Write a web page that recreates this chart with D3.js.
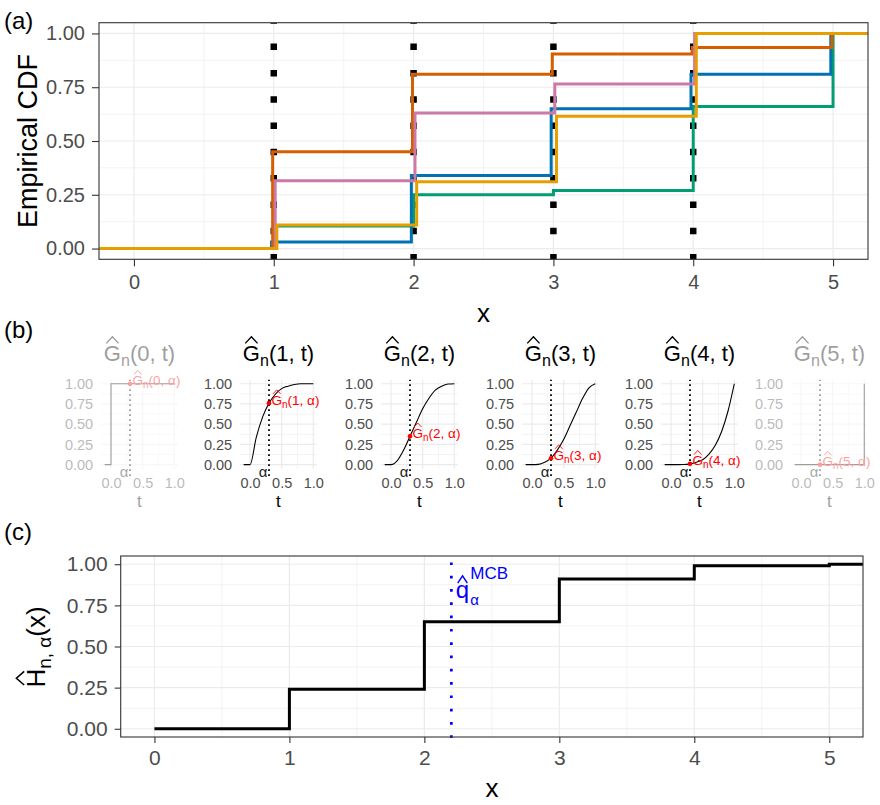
<!DOCTYPE html>
<html>
<head>
<meta charset="utf-8">
<script src="https://cdn.jsdelivr.net/npm/d3@7"></script>
<style>
  body { margin: 0; background: #fff; }
  text { font-family: "Liberation Sans", Arial, sans-serif; }
</style>
</head>
<body>
<script>
// ---- data ----
// (a) empirical CDFs, value after the jump at x = 1..5
const jumpX = [1, 2, 3, 4, 5];
const ecdfGreen  = [0.105, 0.25, 0.27, 0.66, 1.00];
const ecdfBlue   = [0.03, 0.34, 0.65, 0.81, 1.00];
const ecdfOrange = [0.45, 0.81, 0.905, 0.935, 1.00];
const ecdfPink   = [0.315, 0.63, 0.765, 1.00, 1.00];
const ecdfYellow = [0.11, 0.31, 0.615, 1.00, 1.00];
const seriesColors = ["#009E73", "#0072B2", "#D55E00", "#CC79A7", "#E69F00"];
const seriesShift  = [0, -0.016, -0.008, 0.01, 0.022];
const vlineX = [1, 2, 3, 4];

// (b) G_n(x, t) curves
const panelX = [0, 1, 2, 3, 4, 5];
const panelFaded = [true, false, false, false, false, true];
const tGrid = [-0.1, 0, 0.1, 0.2, 0.3, 0.4, 0.5, 0.6, 0.7, 0.8, 0.9, 1.0];
const G0 = [0, 1, 1, 1, 1, 1, 1, 1, 1, 1, 1, 1];
const G1 = [0, 0, 0.34, 0.59, 0.76, 0.87, 0.94, 0.97, 0.99, 1, 1, 1];
const G2 = [0, 0, 0.05, 0.18, 0.35, 0.52, 0.69, 0.82, 0.92, 0.97, 0.996, 1];
const G3 = [0, 0, 0.004, 0.03, 0.08, 0.18, 0.31, 0.48, 0.65, 0.82, 0.95, 1];
const G4 = [0, 0, 0, 0.002, 0.01, 0.03, 0.06, 0.13, 0.24, 0.41, 0.66, 1];
const G5 = [0, 0, 0, 0, 0, 0, 0, 0, 0, 0, 0, 1];
const alphaLevel = 0.3;
const gAtAlpha = [1, 0.76, 0.35, 0.08, 0.01, 0];

// (c) H_{n,alpha}(x)
const hX = [0, 1, 2, 3, 4, 5];
const hValues = [0, 0.24, 0.65, 0.91, 0.99, 1.00];
const qMCB = 2.2;

const yTicks = [0, 0.25, 0.5, 0.75, 1];
const xTicks = [0, 1, 2, 3, 4, 5];
const tTicks = [0, 0.5, 1];

const svg = d3.select("body").append("svg")
  .attr("width", 880)
  .attr("height", 805);

// text with hat / subscript parts
function mathText(parent, parts, opt) {
  const g = parent.append("g");
  let cx = 0;
  parts.forEach(p => {
    const t = g.append("text")
      .attr("x", cx)
      .attr("y", p.dy || 0)
      .attr("fill", opt.color)
      .style("font-size", p.size + "px")
      .text(p.text);
    const w = t.node().getComputedTextLength();
    if (p.hat) {
      const hb = -(p.hatBase || 0.8) * p.size, hh = 0.3 * p.size, hw = 0.36 * w;
      g.append("path")
        .attr("d", `M${cx + w / 2 - hw},${hb} L${cx + w / 2},${hb - hh} L${cx + w / 2 + hw},${hb}`)
        .attr("fill", "none")
        .attr("stroke", opt.color)
        .attr("stroke-width", Math.max(0.9, p.size * 0.06));
    }
    cx += w + (p.after || 0);
  });
  const dx = opt.anchor === "middle" ? -cx / 2 : (opt.anchor === "end" ? -cx : 0);
  g.attr("transform", `translate(${opt.x},${opt.y})` + (opt.rotate ? ` rotate(${opt.rotate})` : "") + ` translate(${dx},0)`);
  return g;
}

function styleAxis(g, size, color, tickColor) {
  g.select(".domain").remove();
  g.selectAll(".tick line").attr("stroke", tickColor || "#333333").attr("stroke-width", 1.1);
  g.selectAll(".tick text").attr("fill", color).style("font-size", size + "px")
    .style("font-family", '"Liberation Sans", Arial, sans-serif');
}

function gridLines(g, x, y, xMajor, xMinor, yMajor, yMinor) {
  const [x0, x1] = x.range(), [y0, y1] = y.range();
  g.selectAll(null).data(xMinor).join("line")
    .attr("x1", d => x(d)).attr("x2", d => x(d)).attr("y1", y0).attr("y2", y1)
    .attr("stroke", "#EBEBEB").attr("stroke-width", 0.6);
  g.selectAll(null).data(yMinor).join("line")
    .attr("y1", d => y(d)).attr("y2", d => y(d)).attr("x1", x0).attr("x2", x1)
    .attr("stroke", "#EBEBEB").attr("stroke-width", 0.6);
  g.selectAll(null).data(xMajor).join("line")
    .attr("x1", d => x(d)).attr("x2", d => x(d)).attr("y1", y0).attr("y2", y1)
    .attr("stroke", "#EBEBEB").attr("stroke-width", 1.2);
  g.selectAll(null).data(yMajor).join("line")
    .attr("y1", d => y(d)).attr("y2", d => y(d)).attr("x1", x0).attr("x2", x1)
    .attr("stroke", "#EBEBEB").attr("stroke-width", 1.2);
}

// ================= (a) =================
const xA = d3.scaleLinear().domain([-0.25, 5.25]).range([99, 868]);
const yA = d3.scaleLinear().domain([-0.05, 1.05]).range([259.3, 22.7]);
const pa = svg.append("g");

gridLines(pa, xA, yA, xTicks, [0.5, 1.5, 2.5, 3.5, 4.5], yTicks, [0.125, 0.375, 0.625, 0.875]);

svg.append("clipPath").attr("id", "clipA").append("rect")
  .attr("x", 99).attr("y", 22.7).attr("width", 769).attr("height", 236.6);

// black dotted verticals
pa.append("g").attr("clip-path", "url(#clipA)")
  .selectAll("line").data(vlineX).join("line")
  .attr("x1", d => xA(d)).attr("x2", d => xA(d))
  .attr("y1", 260.5).attr("y2", 22.7)
  .attr("stroke", "#000").attr("stroke-width", 6.5)
  .attr("stroke-dasharray", "6.5,19.8");

const ecdfs = [ecdfGreen, ecdfBlue, ecdfOrange, ecdfPink, ecdfYellow];
const stepLine = d3.line().x(d => xA(d[0])).y(d => yA(d[1])).curve(d3.curveStepAfter);
pa.append("g").attr("clip-path", "url(#clipA)")
  .selectAll("path").data(ecdfs).join("path")
  .attr("d", (vals, i) => {
    const pts = [[-0.25, 0]];
    jumpX.forEach((x, j) => pts.push([x + seriesShift[i], vals[j]]));
    pts.push([5.25, vals[vals.length - 1]]);
    return stepLine(pts);
  })
  .attr("fill", "none")
  .attr("stroke", (d, i) => seriesColors[i])
  .attr("stroke-width", 3);

pa.append("rect").attr("x", 99).attr("y", 22.7).attr("width", 769).attr("height", 236.6)
  .attr("fill", "none").attr("stroke", "#333333").attr("stroke-width", 1.1);

pa.append("g").attr("transform", "translate(0,259.3)")
  .call(d3.axisBottom(xA).tickValues(xTicks).tickFormat(d3.format("d")).tickSize(7).tickPadding(9))
  .call(g => styleAxis(g, 20, "#4D4D4D"));
pa.append("g").attr("transform", "translate(99,0)")
  .call(d3.axisLeft(yA).tickValues(yTicks).tickFormat(d3.format(".2f")).tickSize(7).tickPadding(7))
  .call(g => styleAxis(g, 20, "#4D4D4D"));

pa.append("text").attr("x", 483.5).attr("y", 322).attr("text-anchor", "middle")
  .style("font-size", "26px").text("x");
pa.append("text").attr("transform", "translate(37,141) rotate(-90)").attr("text-anchor", "middle")
  .style("font-size", "27px").text("Empirical CDF");
svg.append("text").attr("x", 4).attr("y", 29).style("font-size", "24px").text("(a)");

// ================= (b) =================
svg.append("text").attr("x", 4).attr("y", 338).style("font-size", "24px").text("(b)");
const panelT0 = [111, 250, 391, 532, 671, 801];
const unitW = 63.3;
const gCurves = [G0, G1, G2, G3, G4, G5];

panelX.forEach((px, i) => {
  const t0 = panelT0[i];
  const xs = d3.scaleLinear().domain([-0.155, 1.055]).range([t0 - 0.155 * unitW, t0 + 1.055 * unitW]);
  const ys = d3.scaleLinear().domain([-0.05, 1.05]).range([468.7, 379.7]);
  const g = svg.append("g").attr("opacity", panelFaded[i] ? 0.38 : 1);
  const mid = (xs.range()[0] + xs.range()[1]) / 2;

  gridLines(g, xs, ys, tTicks, [0.25, 0.75], yTicks, [0.125, 0.375, 0.625, 0.875]);

  g.append("g").attr("transform", `translate(0,${ys.range()[0]})`)
    .call(d3.axisBottom(xs).tickValues(tTicks).tickFormat(d3.format(".1f")).tickSize(0).tickPadding(9))
    .call(a => styleAxis(a, 14.5, "#4D4D4D"));
  g.append("g").attr("transform", `translate(${xs.range()[0]},0)`)
    .call(d3.axisLeft(ys).tickValues(yTicks).tickFormat(d3.format(".2f")).tickSize(0).tickPadding(8))
    .call(a => styleAxis(a, 14.5, "#4D4D4D"));

  const pts = tGrid.map((t, k) => [t, gCurves[i][k]]);
  const line = d3.line().x(d => xs(d[0])).y(d => ys(d[1]))
    .curve(panelFaded[i] ? d3.curveStepAfter : d3.curveMonotoneX);
  g.append("path").attr("d", line(pts)).attr("fill", "none")
    .attr("stroke", "#000").attr("stroke-width", 1.1);

  // dotted alpha line
  g.append("line")
    .attr("x1", xs(alphaLevel)).attr("x2", xs(alphaLevel))
    .attr("y1", ys(-0.14)).attr("y2", ys(1.05))
    .attr("stroke", "#000").attr("stroke-width", 1.8)
    .attr("stroke-dasharray", "1.8,3.2");
  g.append("text").attr("x", xs(alphaLevel) - 1.5).attr("y", 476.5)
    .attr("text-anchor", "end").style("font-size", "15px").attr("fill", "#1a1a1a").text("α");

  g.append("circle").attr("cx", xs(alphaLevel)).attr("cy", ys(gAtAlpha[i])).attr("r", 2.3).attr("fill", "#FF0000");
  mathText(g, [
    { text: "G", size: 13.5, hat: true },
    { text: "n", size: 10, dy: 3 },
    { text: `(${px}, α)`, size: 13.5 }
  ], { x: xs(alphaLevel) + 2.5, y: ys(gAtAlpha[i]) + 1.5, color: "#FF0000" });

  mathText(g, [
    { text: "G", size: 22, hat: true },
    { text: "n", size: 16, dy: 5 },
    { text: `(${px}, t)`, size: 22 }
  ], { x: mid, y: 361, color: "#000", anchor: "middle" });

  g.append("text").attr("x", mid).attr("y", 507)
    .attr("text-anchor", "middle").style("font-size", "17px").text("t");
});

// ================= (c) =================
svg.append("text").attr("x", 4).attr("y", 540).style("font-size", "24px").text("(c)");
const xC = d3.scaleLinear().domain([-0.25, 5.25]).range([120.7, 863]);
const yC = d3.scaleLinear().domain([-0.05, 1.05]).range([737, 556]);
const pc = svg.append("g");

gridLines(pc, xC, yC, xTicks, [0.5, 1.5, 2.5, 3.5, 4.5], yTicks, [0.125, 0.375, 0.625, 0.875]);

const hPts = hX.map((x, k) => [x, hValues[k]]);
hPts.push([5.25, hValues[hValues.length - 1]]);
pc.append("path")
  .attr("d", d3.line().x(d => xC(d[0])).y(d => yC(d[1])).curve(d3.curveStepAfter)(hPts))
  .attr("fill", "none").attr("stroke", "#000").attr("stroke-width", 3);

pc.append("line")
  .attr("x1", xC(qMCB)).attr("x2", xC(qMCB))
  .attr("y1", 738).attr("y2", 556)
  .attr("stroke", "#0000FF").attr("stroke-width", 2.7)
  .attr("stroke-dasharray", "2.7,10.6");

mathText(pc, [
  { text: "q", size: 24, hat: true, hatBase: 0.6 }
], { x: xC(qMCB) + 4.5, y: 597.5, color: "#0000FF" });
pc.append("text").attr("x", xC(qMCB) + 19).attr("y", 578.5).attr("fill", "#0000FF")
  .style("font-size", "17px").text("MCB");
pc.append("text").attr("x", xC(qMCB) + 19).attr("y", 605).attr("fill", "#0000FF")
  .style("font-size", "15px").text("α");

pc.append("rect").attr("x", 120.7).attr("y", 556).attr("width", 742.3).attr("height", 181)
  .attr("fill", "none").attr("stroke", "#333333").attr("stroke-width", 1.1);

pc.append("g").attr("transform", "translate(0,737)")
  .call(d3.axisBottom(xC).tickValues(xTicks).tickFormat(d3.format("d")).tickSize(6).tickPadding(7))
  .call(g => styleAxis(g, 21, "#4D4D4D"));
pc.append("g").attr("transform", "translate(120.7,0)")
  .call(d3.axisLeft(yC).tickValues(yTicks).tickFormat(d3.format(".2f")).tickSize(6).tickPadding(7))
  .call(g => styleAxis(g, 21, "#4D4D4D"));

pc.append("text").attr("x", 492).attr("y", 797).attr("text-anchor", "middle")
  .style("font-size", "26px").text("x");
mathText(pc, [
  { text: "H", size: 26, hat: true },
  { text: "n, α", size: 19, dy: 6 },
  { text: "(x)", size: 26 }
], { x: 45, y: 647, rotate: -90, color: "#000", anchor: "middle" });
</script>
</body>
</html>
